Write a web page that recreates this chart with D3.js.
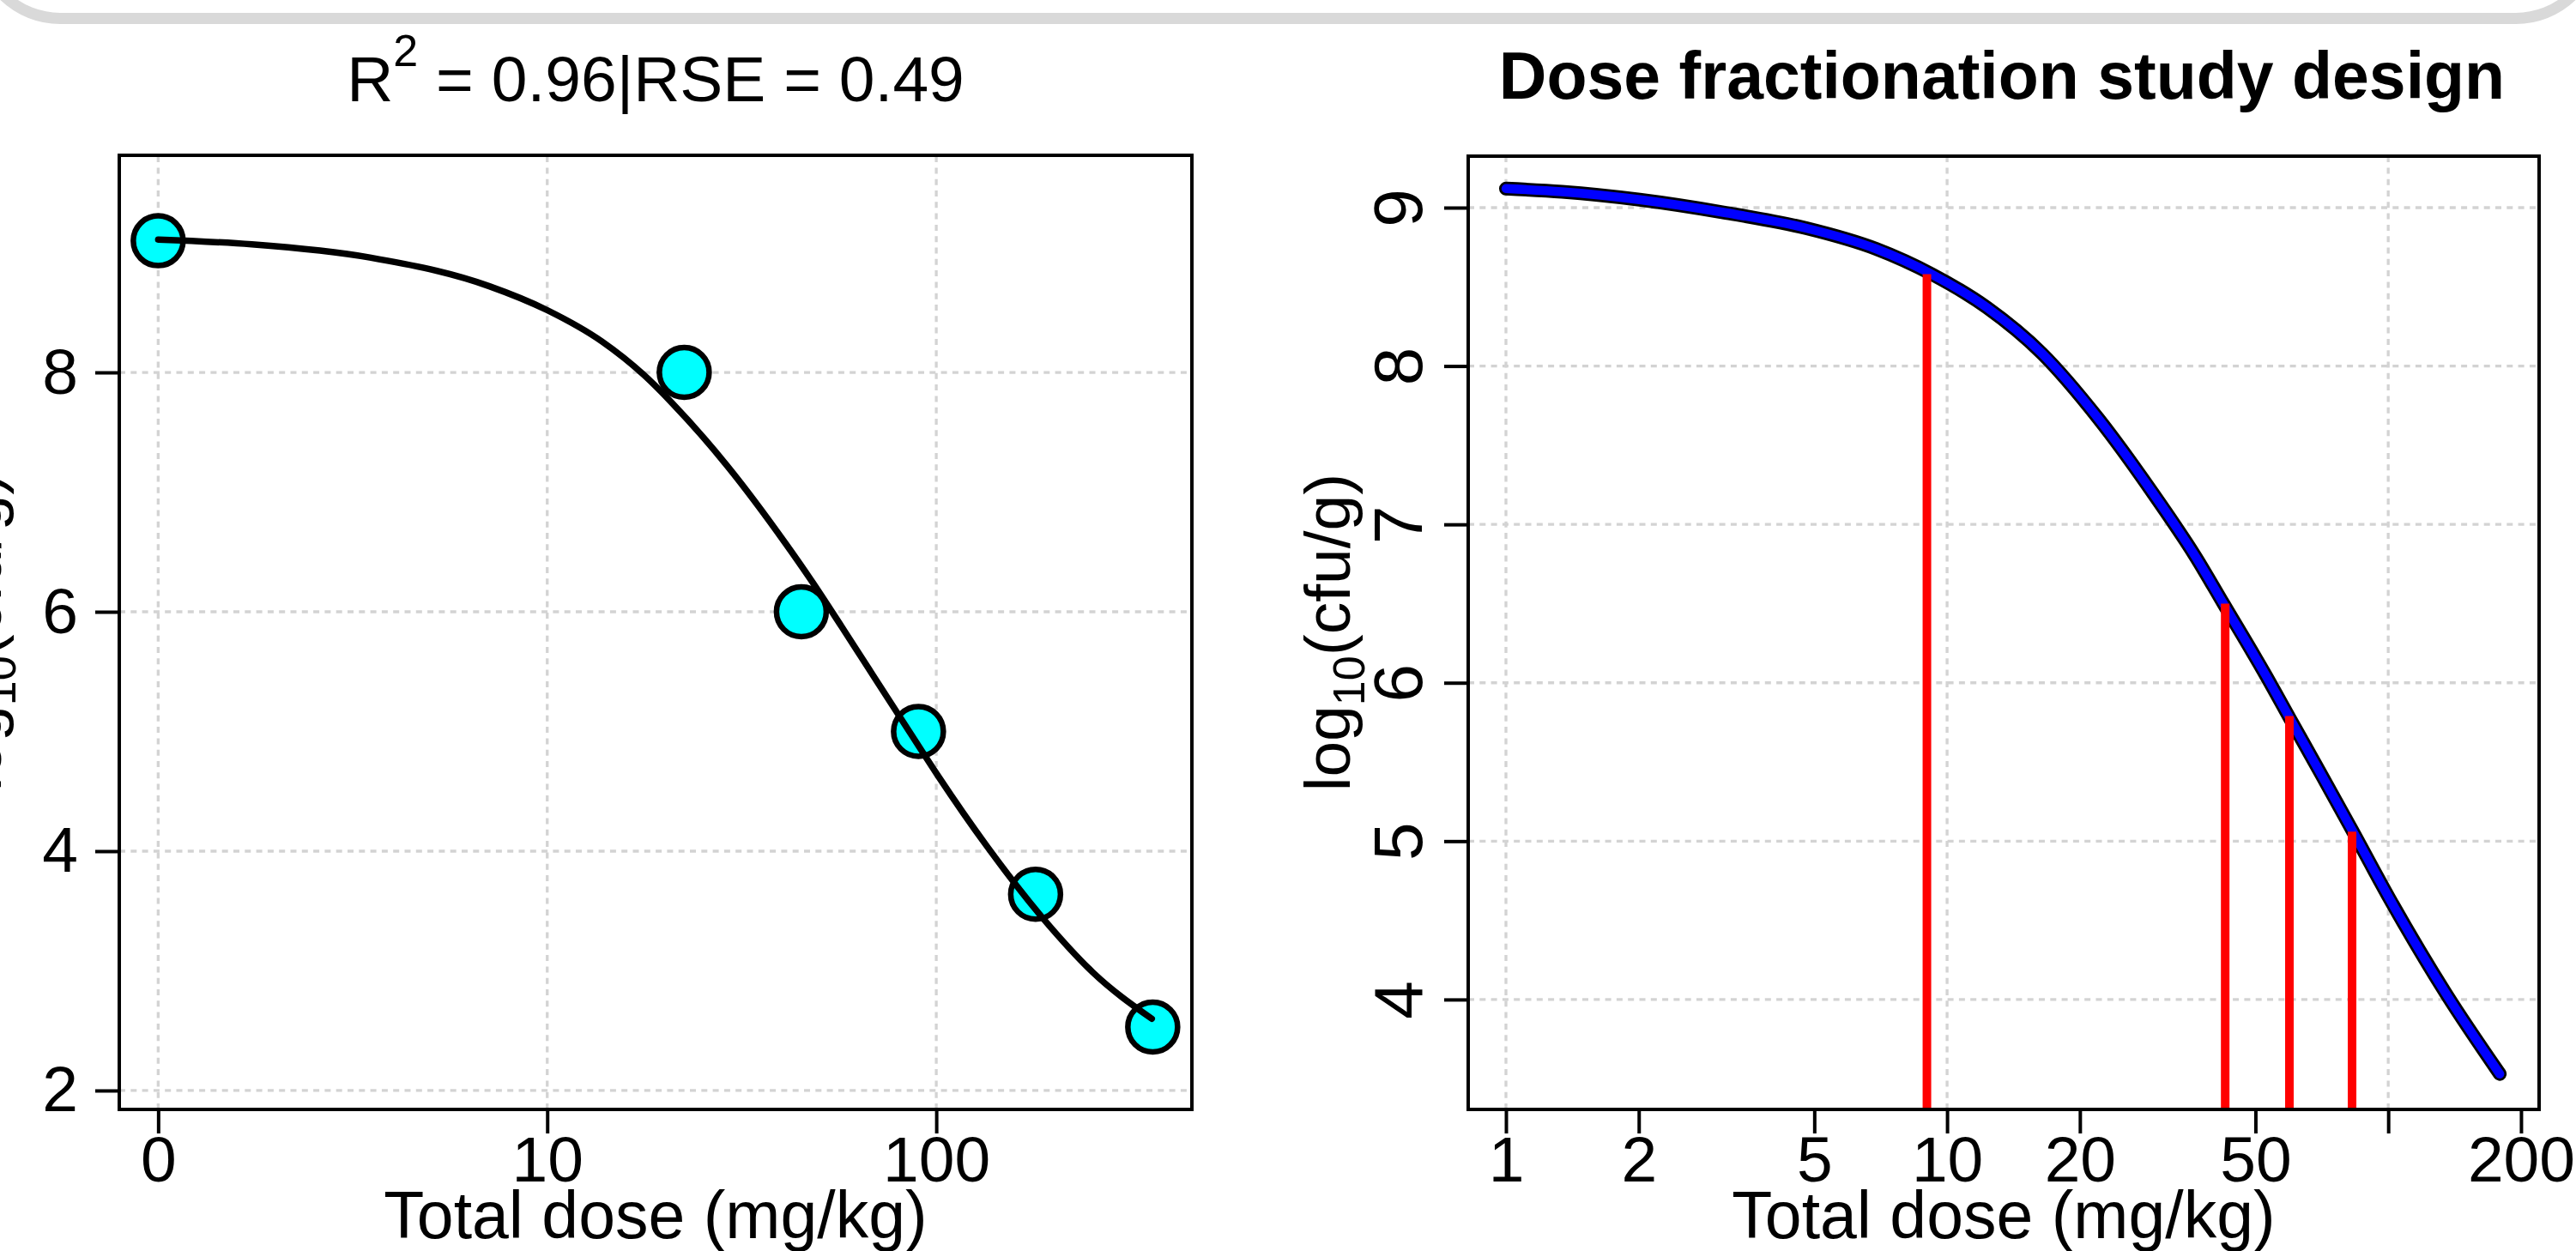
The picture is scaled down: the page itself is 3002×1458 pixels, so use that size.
<!DOCTYPE html>
<html>
<head>
<meta charset="utf-8">
<script src="https://cdn.jsdelivr.net/npm/d3@7"></script>
<style>
  html, body { margin: 0; padding: 0; background: #fff; }
  svg { display: block; font-family: "Liberation Sans", Arial, sans-serif; }
</style>
</head>
<body>
<svg width="3002" height="1458"></svg>
<script>
(function () {

  // left panel: observed kill data (dose 0 is drawn at the "0" tick)
  const doses = [0, 22.5, 45, 90, 180, 360];
  const cfu = [9.1, 8.0, 6.0, 5.0, 3.64, 2.53];

  // fitted curve
  const fitDose = [0, 1.74, 3.5, 7.1, 10, 13.8, 17.7, 21, 29, 41, 48, 57, 70, 86, 101, 135, 196, 252, 358];
  const fitCfu = [9.11, 9.07, 8.96, 8.72, 8.52, 8.26, 7.98, 7.74, 7.22, 6.57, 6.25, 5.88, 5.43, 4.98, 4.63, 4.04, 3.37, 2.99, 2.60];

  // right panel: design curve and the chosen fractionation doses
  const designDose = [1, 1.34, 2.01, 3.11, 4.80, 6.90, 9.23, 12.3, 16.4, 22.0, 29.4, 36.7, 42.3, 52.7, 59.7, 70.2, 82.8, 101, 135, 179];
  const designCfu = [9.12, 9.10, 9.05, 8.97, 8.87, 8.74, 8.58, 8.37, 8.08, 7.67, 7.19, 6.79, 6.50, 6.05, 5.78, 5.43, 5.07, 4.63, 4.04, 3.53];
  const fracDose = [9.0, 42.7, 59.7, 82.8];
  const fracCfu = [8.58, 6.50, 5.79, 5.06];

  // ticks
  const leftYTicks = [2, 4, 6, 8];
  const leftXTicks = [1, 10, 100];
  const leftXLabels = ["0", "10", "100"];
  const rightYTicks = [4, 5, 6, 7, 8, 9];
  const rightXTicks = [1, 2, 5, 10, 20, 50, 100, 200];
  const rightXLabels = ["1", "2", "5", "10", "20", "50", "", "200"];
  const gridX = [1, 10, 100];

  const svg = d3.select("svg");

  // grey frame of the window above the plots
  svg.append("rect")
    .attr("x", -24).attr("y", -300)
    .attr("width", 3050).attr("height", 321.5)
    .attr("rx", 94)
    .attr("fill", "none")
    .attr("stroke", "#d9d9d9")
    .attr("stroke-width", 13);

  // scales
  const xL = d3.scaleLog().domain([Math.pow(10, -0.1), Math.pow(10, 2.657)]).range([139, 1389]);
  const yL = d3.scaleLinear().domain([1.842, 9.814]).range([1293, 181]);
  const xR = d3.scaleLog().domain([Math.pow(10, -0.0856), Math.pow(10, 2.342)]).range([1711, 2959]);
  const yR = d3.scaleLinear().domain([3.306, 9.325]).range([1293, 182]);

  const posL = d => xL(Math.max(d, 1)); // dose 0 sits on the "0" tick

  function grid(x, y, yTicks) {
    const g = svg.append("g")
      .attr("stroke", "#d3d3d3")
      .attr("stroke-width", 3.3)
      .attr("stroke-dasharray", "7 6.3");
    g.selectAll(".vgrid").data(gridX).enter()
      .append("line")
      .attr("x1", d => x(d)).attr("x2", d => x(d))
      .attr("y1", y.range()[0]).attr("y2", y.range()[1]);
    g.selectAll(".hgrid").data(yTicks).enter()
      .append("line")
      .attr("x1", x.range()[0]).attr("x2", x.range()[1])
      .attr("y1", d => y(d)).attr("y2", d => y(d));
  }

  function styleAxis(g, size) {
    g.attr("font-size", null).attr("font-family", null);
    g.select(".domain").remove();
    g.selectAll(".tick line").attr("stroke", "#000").attr("stroke-width", 4);
    g.selectAll(".tick text").attr("fill", "#000").style("font-size", size + "px");
  }

  function box(x, y) {
    svg.append("rect")
      .attr("x", x.range()[0]).attr("y", y.range()[1])
      .attr("width", x.range()[1] - x.range()[0])
      .attr("height", y.range()[0] - y.range()[1])
      .attr("fill", "none")
      .attr("stroke", "#000")
      .attr("stroke-width", 4);
  }

  // ---------- left panel ----------
  grid(xL, yL, leftYTicks);

  svg.append("g")
    .selectAll("circle")
    .data(doses)
    .enter()
    .append("circle")
    .attr("cx", d => posL(d))
    .attr("cy", (d, i) => yL(cfu[i]))
    .attr("r", 29)
    .attr("fill", "#00ffff")
    .attr("stroke", "#000")
    .attr("stroke-width", 6.5);

  const lineL = d3.line()
    .x(d => posL(d))
    .y((d, i) => yL(fitCfu[i]))
    .curve(d3.curveMonotoneX);

  svg.append("path")
    .attr("d", lineL(fitDose))
    .attr("fill", "none")
    .attr("stroke", "#000")
    .attr("stroke-width", 7.5)
    .attr("stroke-linecap", "round");

  box(xL, yL);

  svg.append("g")
    .attr("transform", "translate(139,0)")
    .call(d3.axisLeft(yL).tickValues(leftYTicks).tickFormat(d3.format("d"))
      .tickSize(28).tickPadding(20).tickSizeOuter(0))
    .call(g => styleAxis(g, 75));

  svg.append("g")
    .attr("transform", "translate(0,1293)")
    .call(d3.axisBottom(xL).tickValues(leftXTicks).tickFormat((d, i) => leftXLabels[i])
      .tickSize(28).tickPadding(3).tickSizeOuter(0))
    .call(g => styleAxis(g, 75));

  const titleL = svg.append("text")
    .attr("x", 764).attr("y", 118)
    .attr("text-anchor", "middle")
    .style("font-size", "75px");
  titleL.append("tspan").text("R");
  titleL.append("tspan").attr("dy", -41).style("font-size", "52px").text("2");
  titleL.append("tspan").attr("dy", 41).text(" = 0.96|RSE = 0.49");

  svg.append("text")
    .attr("x", 764).attr("y", 1443)
    .attr("text-anchor", "middle")
    .style("font-size", "77px")
    .text("Total dose (mg/kg)");

  // ---------- right panel ----------
  grid(xR, yR, rightYTicks);

  const lineR = d3.line()
    .x(d => xR(d))
    .y((d, i) => yR(designCfu[i]))
    .curve(d3.curveMonotoneX);

  svg.append("path")
    .attr("d", lineR(designDose))
    .attr("fill", "none")
    .attr("stroke", "#000")
    .attr("stroke-width", 16)
    .attr("stroke-linecap", "round");

  svg.append("path")
    .attr("d", lineR(designDose))
    .attr("fill", "none")
    .attr("stroke", "#0000ff")
    .attr("stroke-width", 10.5)
    .attr("stroke-linecap", "round");

  svg.append("g")
    .selectAll("line")
    .data(fracDose)
    .enter()
    .append("line")
    .attr("x1", d => xR(d)).attr("x2", d => xR(d))
    .attr("y1", yR.range()[0])
    .attr("y2", (d, i) => yR(fracCfu[i]))
    .attr("stroke", "#ff0000")
    .attr("stroke-width", 10);

  box(xR, yR);

  svg.append("g")
    .attr("transform", "translate(1711,0)")
    .call(d3.axisLeft(yR).tickValues(rightYTicks).tickFormat(d3.format("d"))
      .tickSize(28).tickSizeOuter(0))
    .call(g => styleAxis(g, 80))
    .call(g => g.selectAll(".tick text")
      .attr("x", 0).attr("y", 0).attr("dy", 0)
      .attr("text-anchor", "middle")
      .attr("transform", "translate(-54,0) rotate(-90)"));

  svg.append("g")
    .attr("transform", "translate(0,1293)")
    .call(d3.axisBottom(xR).tickValues(rightXTicks).tickFormat((d, i) => rightXLabels[i])
      .tickSize(28).tickPadding(3).tickSizeOuter(0))
    .call(g => styleAxis(g, 75));

  svg.append("text")
    .attr("x", 2333).attr("y", 115)
    .attr("text-anchor", "middle")
    .attr("font-weight", "bold")
    .style("font-size", "77px")
    .text("Dose fractionation study design");

  svg.append("text")
    .attr("x", 2335).attr("y", 1443)
    .attr("text-anchor", "middle")
    .style("font-size", "77px")
    .text("Total dose (mg/kg)");

  // y axis titles (the left one is mostly cut off by the page edge)
  [[1, 737], [1573, 737]].forEach(([x, y]) => {
    const t = svg.append("text")
      .attr("transform", `translate(${x},${y}) rotate(-90)`)
      .attr("text-anchor", "middle")
      .style("font-size", "75px");
    t.append("tspan").text("log");
    t.append("tspan").attr("dy", 17).style("font-size", "52px").text("10");
    t.append("tspan").attr("dy", -17).text("(cfu/g)");
  });
})();
</script>
</body>
</html>
